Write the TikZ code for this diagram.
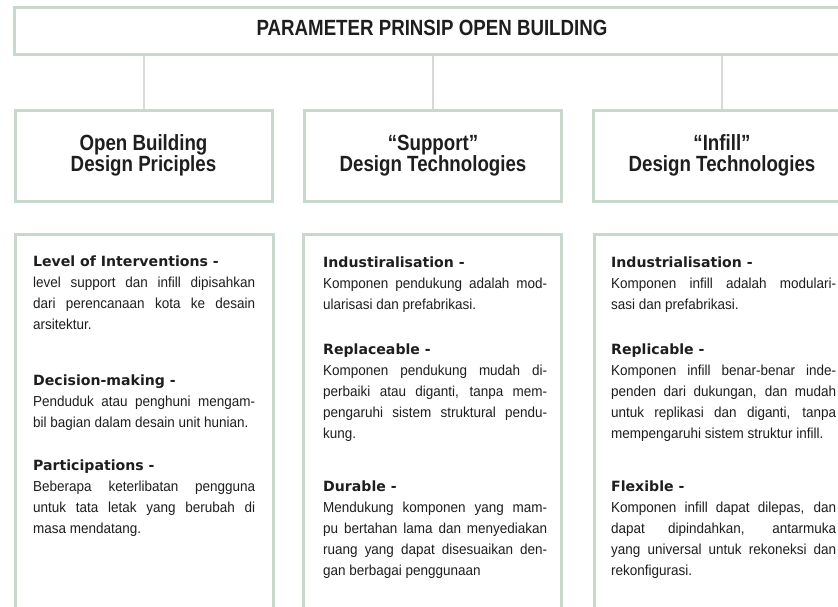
\documentclass[tikz,border=0pt]{standalone}
\usepackage{fontspec}
\setmainfont{Liberation Sans}[FakeStretch=0.93]
\newfontfamily\headfam{Liberation Sans}[FakeStretch=0.85]
\newfontfamily\subfam{DejaVu Sans}
\usetikzlibrary{positioning}

\definecolor{boxline}{HTML}{C9D8CC}
\definecolor{linkline}{HTML}{D6DBD7}
\definecolor{ink}{HTML}{1E1E1E}

\newcommand{\bodyfont}{\fontsize{14.5pt}{21pt}\selectfont\parindent=0pt\hyphenpenalty=10000\exhyphenpenalty=10000\tolerance=10000}
\newcommand{\itemhead}[1]{{\subfam\bfseries\fontsize{14.1pt}{21pt}\selectfont #1}\par}

\begin{document}
\begin{tikzpicture}[x=1pt, y=-1pt,
  box/.style={draw=boxline, line width=3pt, fill=white, inner sep=0pt},
  head/.style={font=\headfam\bfseries\fontsize{22pt}{21pt}\selectfont, align=center, text=ink},
  link/.style={draw=linkline, line width=2pt},
  item/.style={anchor=north west, inner sep=0pt, align=justify, font=\bodyfont, text=ink}]
\path[use as bounding box] (0,0) rectangle (838,606);
\clip (0,0) rectangle (838,606);

% Top box
\node[box, minimum width=900pt, minimum height=47pt, anchor=north west] (top) at (13,6) {};
\node[head] (title) at (432,28) {PARAMETER PRINSIP OPEN BUILDING};

% Column heads
\node[box, head, minimum width=257pt, minimum height=91pt] (obd) at (143.5,155.5) {Open Building\\Design Priciples};
\node[box, head, minimum width=257pt, minimum height=91pt] (sup) at (433,155.5) {“Support”\\Design Technologies};
\node[box, head, minimum width=257pt, minimum height=91pt] (inf) at (722,155.5) {“Infill”\\Design Technologies};

% Connectors
\draw[link] (top.south -| obd.north) -- (obd.north);
\draw[link] (top.south -| sup.north) -- (sup.north);
\draw[link] (top.south -| inf.north) -- (inf.north);

% Lists
\node[box, minimum width=258pt, minimum height=420pt, anchor=north] (obdlist) at (144,233) {};
\node[box, minimum width=258pt, minimum height=420pt, anchor=north] (suplist) at (432,233) {};
\node[box, minimum width=258pt, minimum height=420pt, anchor=north] (inflist) at (723,233) {};

% Open building principles
\node[item, text width=222pt] (lvl) at (33,256) {\itemhead{Level of Interventions -}level support dan infill dipisahkan\linebreak dari perencanaan kota ke desain\linebreak arsitektur.};
\node[item, text width=222pt] (dec) at (33,375) {\itemhead{Decision-making -}Penduduk atau penghuni mengam-\linebreak bil bagian dalam desain unit hunian.};
\node[item, text width=222pt] (par) at (33,460) {\itemhead{Participations -}Beberapa keterlibatan pengguna\linebreak untuk tata letak yang berubah di\linebreak masa mendatang.};

% Support technologies
\node[item, text width=224pt] (indsup) at (323,257) {\itemhead{Industiralisation -}Komponen pendukung adalah mod-\linebreak ularisasi dan prefabrikasi.};
\node[item, text width=224pt] (rep) at (323,344) {\itemhead{Replaceable -}Komponen pendukung mudah di-\linebreak perbaiki atau diganti, tanpa mem-\linebreak pengaruhi sistem struktural pendu-\linebreak kung.};
\node[item, text width=224pt] (dur) at (323,481) {\itemhead{Durable -}Mendukung komponen yang mam-\linebreak pu bertahan lama dan menyediakan\linebreak ruang yang dapat disesuaikan den-\linebreak gan berbagai penggunaan};

% Infill technologies
\node[item, text width=225pt] (indinf) at (611,257) {\itemhead{Industrialisation -}Komponen infill adalah modulari-\linebreak sasi dan prefabrikasi.};
\node[item, text width=225pt] (repl) at (611,344) {\itemhead{Replicable -}Komponen infill benar-benar inde-\linebreak penden dari dukungan, dan mudah\linebreak untuk replikasi dan diganti, tanpa\linebreak mempengaruhi sistem struktur infill.};
\node[item, text width=225pt] (flex) at (611,481) {\itemhead{Flexible -}Komponen infill dapat dilepas, dan\linebreak dapat dipindahkan, antarmuka\linebreak yang universal untuk rekoneksi dan\linebreak rekonfigurasi.};
\end{tikzpicture}
\end{document}
